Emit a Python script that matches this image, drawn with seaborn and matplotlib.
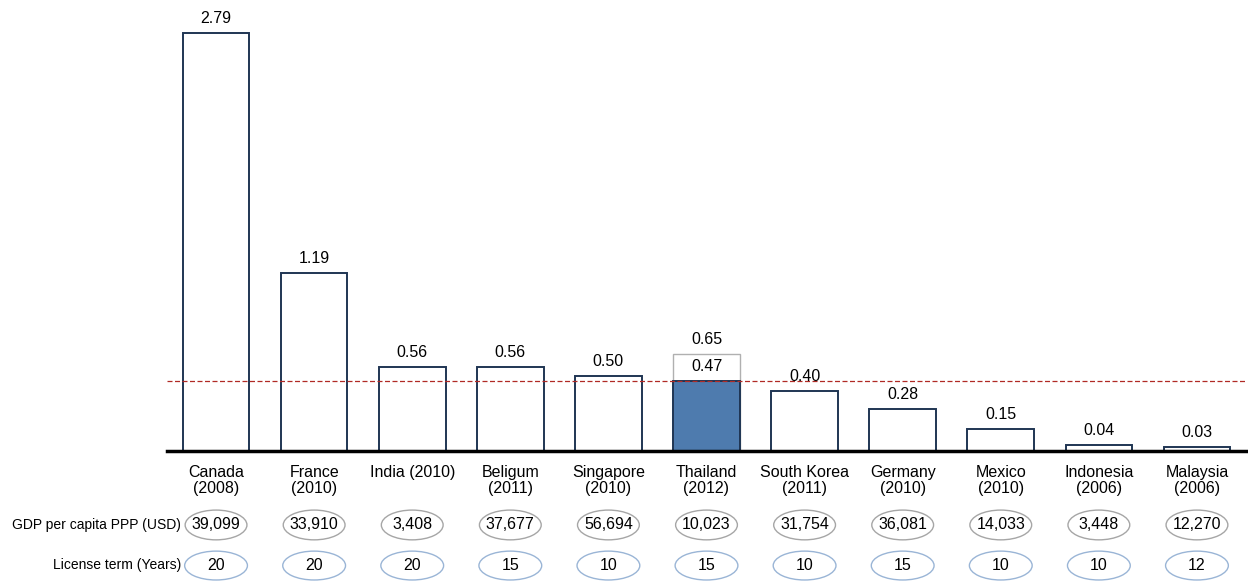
import numpy as np
import pandas as pd
import matplotlib
matplotlib.use('Agg')
import matplotlib.pyplot as plt
import matplotlib.transforms as mtransforms
from matplotlib.patches import Ellipse
import seaborn as sns

countries = ['Canada\n(2008)', 'France\n(2010)', 'India (2010)', 'Beligum\n(2011)', 'Singapore\n(2010)',
             'Thailand\n(2012)', 'South Korea\n(2011)', 'Germany\n(2010)', 'Mexico\n(2010)',
             'Indonesia\n(2006)', 'Malaysia\n(2006)']
values = [2.79, 1.19, 0.56, 0.56, 0.50, 0.47, 0.40, 0.28, 0.15, 0.04, 0.03]
thai_upper = 0.65
gdp = ['39,099', '33,910', '3,408', '37,677', '56,694', '10,023', '31,754', '36,081', '14,033', '3,448', '12,270']
license_term = ['20', '20', '20', '15', '10', '15', '10', '15', '10', '10', '12']
highlight = 'Thailand\n(2012)'

df = pd.DataFrame({'Country': countries, 'Value': values})

sns.set_style('white')
plt.rcParams['font.family'] = ['Liberation Sans', 'DejaVu Sans']
plt.rcParams['text.color'] = 'black'
plt.rcParams['xtick.color'] = 'black'

fig = plt.figure(figsize=(12.48, 5.82), dpi=100)
ax = fig.add_axes([167/1248, 131/582, 1079/1248, 451/582])

hi = countries.index(highlight)

# light grey outline for Thailand's upper value
ax.bar(hi, thai_upper, width=0.68, facecolor='white', edgecolor='#b0b0b0', linewidth=1.0, zorder=1)

sns.barplot(data=df, x='Country', y='Value', ax=ax, color='white', width=0.68,
            edgecolor='#1f3553', linewidth=1.4, saturation=1, zorder=2)
ax.patches[-len(countries) + hi].set_facecolor('#4e7bae')

# average line
ax.axhline(values[hi], color='#b02a25', linestyle=(0, (4, 2)), linewidth=0.9, zorder=3)

for i, v in enumerate(values):
    ax.annotate(f'{v:.2f}', (i, v), xytext=(0, 5), textcoords='offset points',
                ha='center', va='bottom', fontsize=11.5, color='black', zorder=4)
ax.annotate(f'{thai_upper:.2f}', (hi, thai_upper), xytext=(0, 5), textcoords='offset points',
            ha='center', va='bottom', fontsize=11.5, color='black')

ax.set_xlim(-0.5, len(countries) - 0.5)
ax.set_ylim(0, 3.01)
ax.set_xlabel('')
ax.set_ylabel('')
ax.set_yticks([])
ax.tick_params(axis='x', length=0, pad=10, labelsize=11.5, labelcolor='black')
for lbl in ax.get_xticklabels():
    lbl.set_linespacing(1.1)

for s in ['top', 'left', 'right']:
    ax.spines[s].set_visible(False)
ax.spines['bottom'].set_color('black')
ax.spines['bottom'].set_linewidth(2.5)

# table rows under the chart
trans = mtransforms.blended_transform_factory(ax.transData, ax.transAxes)
for i in range(len(countries)):
    ax.add_patch(Ellipse((i, -0.164), 0.63, 0.066, transform=trans, clip_on=False,
                         facecolor='white', edgecolor='#a6a6a6', linewidth=1.0))
    ax.text(i, -0.164, gdp[i], transform=trans, ha='center', va='center', fontsize=11.5, color='black')
    ax.add_patch(Ellipse((i, -0.254), 0.64, 0.064, transform=trans, clip_on=False,
                         facecolor='white', edgecolor='#9ab5d6', linewidth=1.0))
    ax.text(i, -0.254, license_term[i], transform=trans, ha='center', va='center', fontsize=11.5, color='black')

fig.text(181/1248, 1 - 525/582, 'GDP per capita PPP (USD)', ha='right', va='center', fontsize=10, color='black')
fig.text(181/1248, 1 - 565/582, 'License term (Years)', ha='right', va='center', fontsize=10, color='black')

fig.savefig('out.png', dpi=100, facecolor='white')
